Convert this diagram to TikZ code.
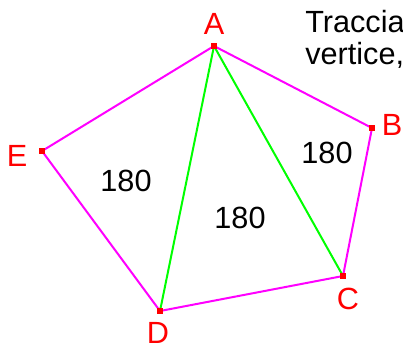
\documentclass[tikz,border=0pt]{standalone}
\usepackage{fontspec}
\setmainfont{Liberation Sans}
\usetikzlibrary{positioning}
\definecolor{pentmag}{RGB}{255,0,255}
\definecolor{diaggreen}{RGB}{0,255,0}
\definecolor{vertred}{RGB}{255,0,0}

\begin{document}
\begin{tikzpicture}[
    x=0.75pt, y=-0.75pt,
    side/.style={draw=pentmag, line width=1.5pt},
    diag/.style={draw=diaggreen, line width=1.5pt},
    vert/.style={fill=vertred, rectangle, inner sep=0pt, minimum size=4pt},
    vlabel/.style={text=vertred, inner sep=0pt, font=\fontsize{23}{27}\selectfont},
    angsum/.style={font=\fontsize{23}{27}\selectfont},
    intro/.style={anchor=base west, inner sep=0pt, font=\fontsize{23}{27}\selectfont}
]
    \useasboundingbox (0,0) rectangle (403,347);

    \coordinate (A) at (214,46);
    \coordinate (B) at (372,128);
    \coordinate (C) at (343,276);
    \coordinate (D) at (160,311);
    \coordinate (E) at (42,151);

    % pentagon and diagonals from A
    \draw[side] (A) -- (B) -- (C) -- (D) -- (E) -- cycle;
    \draw[diag] (A) -- (C);
    \draw[diag] (A) -- (D);

    \foreach \v in {A,B,C,D,E}
        \node[vert] at (\v) {};

    \node[vlabel] (lA) at (214,24) {A};
    \node[vlabel] (lB) at (392,125) {B};
    \node[vlabel] (lC) at (348,299) {C};
    \node[vlabel] (lD) at (158,333) {D};
    \node[vlabel] (lE) at (17,156) {E};

    \node[angsum] (sE) at (126,181) {180};
    \node[angsum] (sB) at (327,153) {180};
    \node[angsum] (sM) at (240,218) {180};

    \node[intro] (t1) at (305,32) {Traccia};
    \node[intro] (t2) at (305,64) {vertice,};
\end{tikzpicture}
\end{document}
